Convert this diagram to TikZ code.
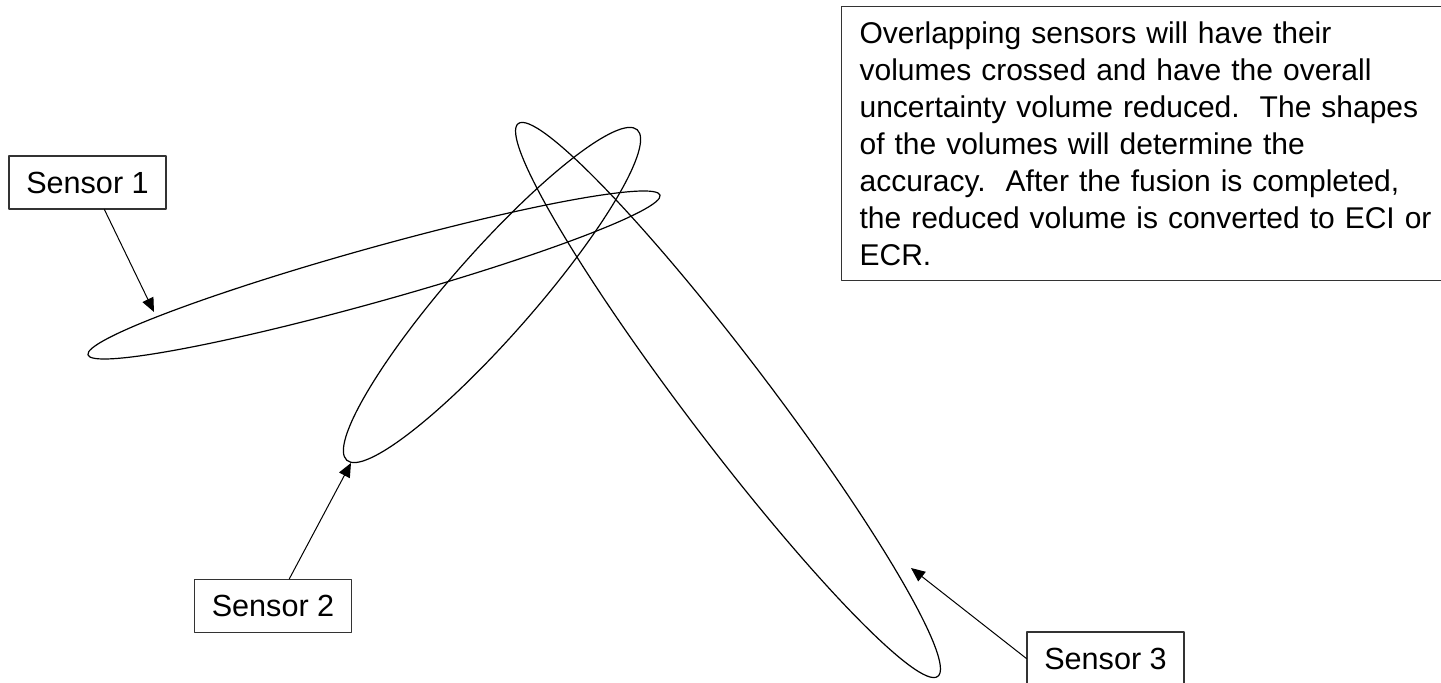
\documentclass[tikz,border=0pt]{standalone}
\usepackage{fontspec}
\setmainfont{Liberation Sans}
\usetikzlibrary{arrows.meta}

\begin{document}
\begin{tikzpicture}[x=.5pt,y=-.5pt,line cap=round,line join=round,
  >={Triangle[length=7pt,width=6pt]},
  vol/.style={draw,line width=.6pt},
  sensorbox/.style={draw=black!80,line width=.6pt,minimum width=78.5pt,
    minimum height=26.5pt,inner sep=0pt,font=\fontsize{15.3}{18.5}\selectfont},
  notebox/.style={draw=black!80,line width=.6pt,align=left,text width=300pt,
    inner xsep=9pt,inner ysep=7.5pt,font=\fontsize{15}{18.5}\selectfont},
  pointer/.style={->,line width=.5pt}]
\useasboundingbox (0,0) rectangle (1441,683);

% Uncertainty volumes of the three sensors.
\draw[vol,rotate around={15.6:(374,275)}] (374,275) ellipse [x radius=297,y radius=27];
\draw[vol,rotate around={48.7:(492,295)}] (492,295) ellipse [x radius=220,y radius=42];
\draw[vol,rotate around={-52.8:(728,400)}] (728,400) ellipse [x radius=347,y radius=42];
\coordinate (tip1) at (154,312);
\coordinate (tip2) at (351,463);
\coordinate (tip3) at (911,568);

% Sensor tags and their pointers.
\node[sensorbox] (s1) at (87.5,182.5) {Sensor 1};
\node[sensorbox] (s2) at (273,606) {Sensor 2};
\node[sensorbox] (s3) at (1105.5,658.5) {Sensor 3};
\draw[pointer] (s1.-58) -- (tip1);
\draw[pointer] (s2.59) -- (tip2);
\draw[pointer] (s3.west) -- (tip3);

% Explanation box, running off the right edge.
\node[notebox,anchor=north west] (note) at (841,6)
  {Overlapping sensors will have their\\
   volumes crossed and have the overall\\
   uncertainty volume reduced.\ \ The shapes\\
   of the volumes will determine the\\
   accuracy.\ \ After the fusion is completed,\\
   the reduced volume is converted to ECI or\\
   ECR.};
\end{tikzpicture}
\end{document}
